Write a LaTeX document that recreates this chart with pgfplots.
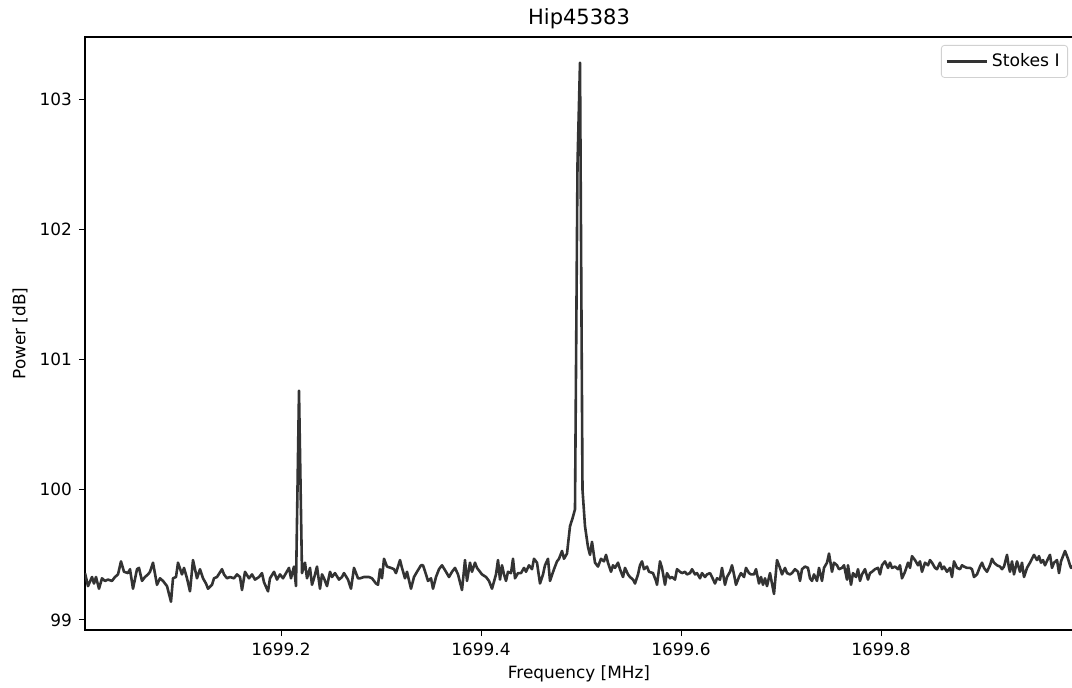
\documentclass[border=0pt]{standalone}
\usepackage{pgfplots}
\pgfplotsset{compat=1.18}
\usepackage{fontspec}
\setmainfont{DejaVu Sans}
\definecolor{trace}{RGB}{51,51,51}

\begin{document}
\begin{tikzpicture}
\begin{axis}[
    scale only axis,
    width=494pt, height=296.5pt,
    xmin=0.004, xmax=0.992,
    ymin=98.923, ymax=103.477,
    % x values are frequency minus 1699 MHz
    xtick={0.2,0.4,0.6,0.8},
    xticklabels={1699.2,1699.4,1699.6,1699.8},
    ytick={99,100,101,102,103},
    tick pos=left,
    tick align=outside,
    major tick length=3pt,
    tick style={black, line width=0.5pt},
    axis line style={black, line width=0.6pt},
    ticklabel style={font=\fontsize{8.45}{10}\selectfont},
    yticklabel style={/pgf/number format/assume math mode=true},
    title={Hip45383},
    title style={font=\fontsize{10.5}{12}\selectfont, at={(axis description cs:0.5,1)}, anchor=base, inner sep=0pt},
    xlabel={Frequency [MHz]},
    xlabel style={font=\fontsize{8.45}{10}\selectfont, at={(axis description cs:0.5,-0.0826)}, anchor=base, inner sep=0pt},
    ylabel={Power [dB]},
    ylabel style={font=\fontsize{8.45}{10}\selectfont, at={(axis description cs:-0.0658,0.5)}, anchor=center, inner sep=0pt},
    legend style={at={(axis description cs:1,1)}, anchor=north east, xshift=-2.5pt, yshift=-4pt,
        draw=black!18, rounded corners=1.5pt, fill=white,
        font=\fontsize{8.6}{10}\selectfont, inner xsep=2pt, inner ysep=2pt},
    legend cell align=left,
    legend image code/.code={\draw[#1] (-2pt,0pt) -- (18pt,0pt);},
]
\addplot[color=trace, line width=1.3pt, line join=round] table {
0.004 99.36
0.007 99.26
0.011 99.33
0.013 99.28
0.015 99.33
0.018 99.24
0.021 99.32
0.024 99.30
0.027 99.31
0.031 99.30
0.034 99.33
0.037 99.35
0.040 99.45
0.043 99.37
0.047 99.36
0.049 99.39
0.052 99.24
0.056 99.39
0.058 99.40
0.061 99.30
0.064 99.33
0.067 99.35
0.069 99.37
0.072 99.44
0.076 99.27
0.079 99.32
0.082 99.30
0.086 99.26
0.090 99.14
0.092 99.32
0.095 99.33
0.097 99.44
0.101 99.35
0.103 99.40
0.106 99.32
0.109 99.22
0.112 99.46
0.116 99.32
0.119 99.39
0.122 99.32
0.125 99.28
0.127 99.24
0.131 99.27
0.133 99.32
0.136 99.33
0.141 99.39
0.143 99.35
0.146 99.32
0.149 99.33
0.153 99.32
0.156 99.35
0.159 99.33
0.161 99.23
0.164 99.37
0.168 99.32
0.171 99.35
0.174 99.31
0.178 99.33
0.181 99.36
0.183 99.29
0.187 99.22
0.189 99.32
0.193 99.37
0.196 99.31
0.199 99.35
0.202 99.32
0.205 99.36
0.208 99.40
0.210 99.32
0.213 99.41
0.215 99.26
0.218 100.76
0.221 99.36
0.224 99.44
0.226 99.32
0.229 99.40
0.231 99.27
0.233 99.32
0.236 99.41
0.239 99.24
0.241 99.35
0.243 99.32
0.246 99.26
0.249 99.37
0.251 99.33
0.254 99.36
0.258 99.31
0.261 99.33
0.263 99.36
0.267 99.31
0.270 99.24
0.273 99.40
0.277 99.32
0.279 99.32
0.283 99.33
0.288 99.33
0.291 99.32
0.295 99.28
0.297 99.27
0.299 99.39
0.301 99.32
0.303 99.47
0.306 99.41
0.310 99.40
0.313 99.39
0.315 99.36
0.319 99.46
0.321 99.40
0.324 99.32
0.326 99.37
0.330 99.24
0.333 99.33
0.336 99.37
0.340 99.42
0.342 99.42
0.345 99.35
0.347 99.30
0.350 99.32
0.352 99.24
0.355 99.33
0.358 99.39
0.361 99.42
0.365 99.37
0.368 99.33
0.371 99.37
0.374 99.40
0.377 99.35
0.381 99.23
0.384 99.46
0.386 99.30
0.389 99.44
0.391 99.37
0.394 99.44
0.396 99.40
0.399 99.37
0.401 99.35
0.405 99.33
0.408 99.30
0.411 99.24
0.415 99.35
0.417 99.46
0.419 99.31
0.421 99.42
0.423 99.35
0.425 99.30
0.427 99.37
0.430 99.36
0.432 99.47
0.434 99.32
0.437 99.36
0.440 99.36
0.443 99.40
0.445 99.37
0.448 99.42
0.451 99.39
0.453 99.47
0.456 99.44
0.459 99.28
0.462 99.35
0.464 99.42
0.467 99.47
0.469 99.30
0.473 99.39
0.476 99.45
0.478 99.47
0.481 99.53
0.483 99.47
0.486 99.51
0.489 99.72
0.4915 99.78
0.494 99.85
0.4965 102.50
0.499 103.28
0.5015 100.00
0.504 99.72
0.507 99.56
0.509 99.50
0.511 99.60
0.514 99.44
0.517 99.41
0.520 99.47
0.523 99.45
0.525 99.50
0.527 99.44
0.530 99.37
0.532 99.42
0.534 99.40
0.537 99.44
0.539 99.39
0.542 99.33
0.544 99.40
0.547 99.35
0.549 99.33
0.552 99.31
0.554 99.28
0.557 99.35
0.559 99.42
0.561 99.45
0.563 99.39
0.566 99.41
0.568 99.37
0.572 99.36
0.575 99.30
0.576 99.27
0.579 99.45
0.581 99.40
0.584 99.27
0.586 99.36
0.589 99.32
0.591 99.33
0.594 99.31
0.596 99.39
0.599 99.37
0.601 99.36
0.604 99.37
0.606 99.35
0.609 99.36
0.611 99.39
0.614 99.35
0.616 99.36
0.619 99.32
0.621 99.36
0.624 99.33
0.626 99.35
0.629 99.36
0.631 99.33
0.634 99.28
0.636 99.32
0.639 99.31
0.641 99.40
0.644 99.27
0.646 99.33
0.649 99.37
0.651 99.42
0.653 99.35
0.655 99.27
0.658 99.33
0.660 99.36
0.663 99.33
0.665 99.40
0.668 99.36
0.670 99.35
0.673 99.35
0.675 99.39
0.678 99.28
0.680 99.33
0.682 99.27
0.684 99.32
0.686 99.26
0.689 99.36
0.690 99.32
0.693 99.20
0.696 99.46
0.699 99.40
0.701 99.35
0.704 99.40
0.706 99.36
0.709 99.35
0.711 99.36
0.714 99.39
0.717 99.37
0.719 99.30
0.721 99.39
0.724 99.41
0.727 99.40
0.729 99.32
0.731 99.30
0.733 99.35
0.736 99.30
0.738 99.40
0.741 99.30
0.743 99.40
0.746 99.44
0.748 99.51
0.751 99.37
0.753 99.44
0.756 99.42
0.758 99.39
0.761 99.40
0.763 99.42
0.766 99.31
0.767 99.42
0.770 99.27
0.772 99.36
0.775 99.33
0.777 99.39
0.779 99.30
0.781 99.35
0.784 99.39
0.787 99.31
0.789 99.36
0.791 99.37
0.794 99.39
0.797 99.40
0.799 99.35
0.801 99.42
0.804 99.45
0.807 99.40
0.809 99.44
0.811 99.40
0.814 99.41
0.817 99.39
0.819 99.42
0.821 99.32
0.824 99.37
0.827 99.44
0.829 99.40
0.831 99.49
0.834 99.46
0.837 99.42
0.839 99.45
0.841 99.37
0.844 99.44
0.847 99.42
0.849 99.46
0.851 99.44
0.854 99.40
0.856 99.39
0.859 99.44
0.861 99.39
0.863 99.41
0.866 99.37
0.869 99.40
0.871 99.33
0.873 99.45
0.876 99.40
0.879 99.39
0.881 99.42
0.883 99.41
0.886 99.40
0.889 99.40
0.891 99.39
0.893 99.33
0.896 99.35
0.899 99.41
0.901 99.44
0.903 99.40
0.906 99.37
0.909 99.42
0.911 99.47
0.913 99.44
0.916 99.42
0.919 99.41
0.921 99.39
0.923 99.41
0.926 99.50
0.928 99.40
0.929 99.37
0.931 99.45
0.933 99.35
0.936 99.45
0.939 99.37
0.941 99.44
0.943 99.33
0.946 99.40
0.949 99.44
0.951 99.47
0.953 99.50
0.956 99.46
0.958 99.49
0.960 99.44
0.962 99.46
0.964 99.42
0.967 99.47
0.969 99.50
0.971 99.40
0.973 99.44
0.976 99.46
0.978 99.36
0.980 99.45
0.982 99.49
0.984 99.53
0.987 99.47
0.989 99.42
0.990 99.40
0.991 99.41
0.994 99.42
};
\addlegendentry{Stokes I}
\end{axis}
\pgfresetboundingbox
\path ([xshift=-42.5pt,yshift=-28.5pt]current axis.south west) rectangle ([xshift=-0.5pt,yshift=18.5pt]current axis.north east);
\end{tikzpicture}
\end{document}
